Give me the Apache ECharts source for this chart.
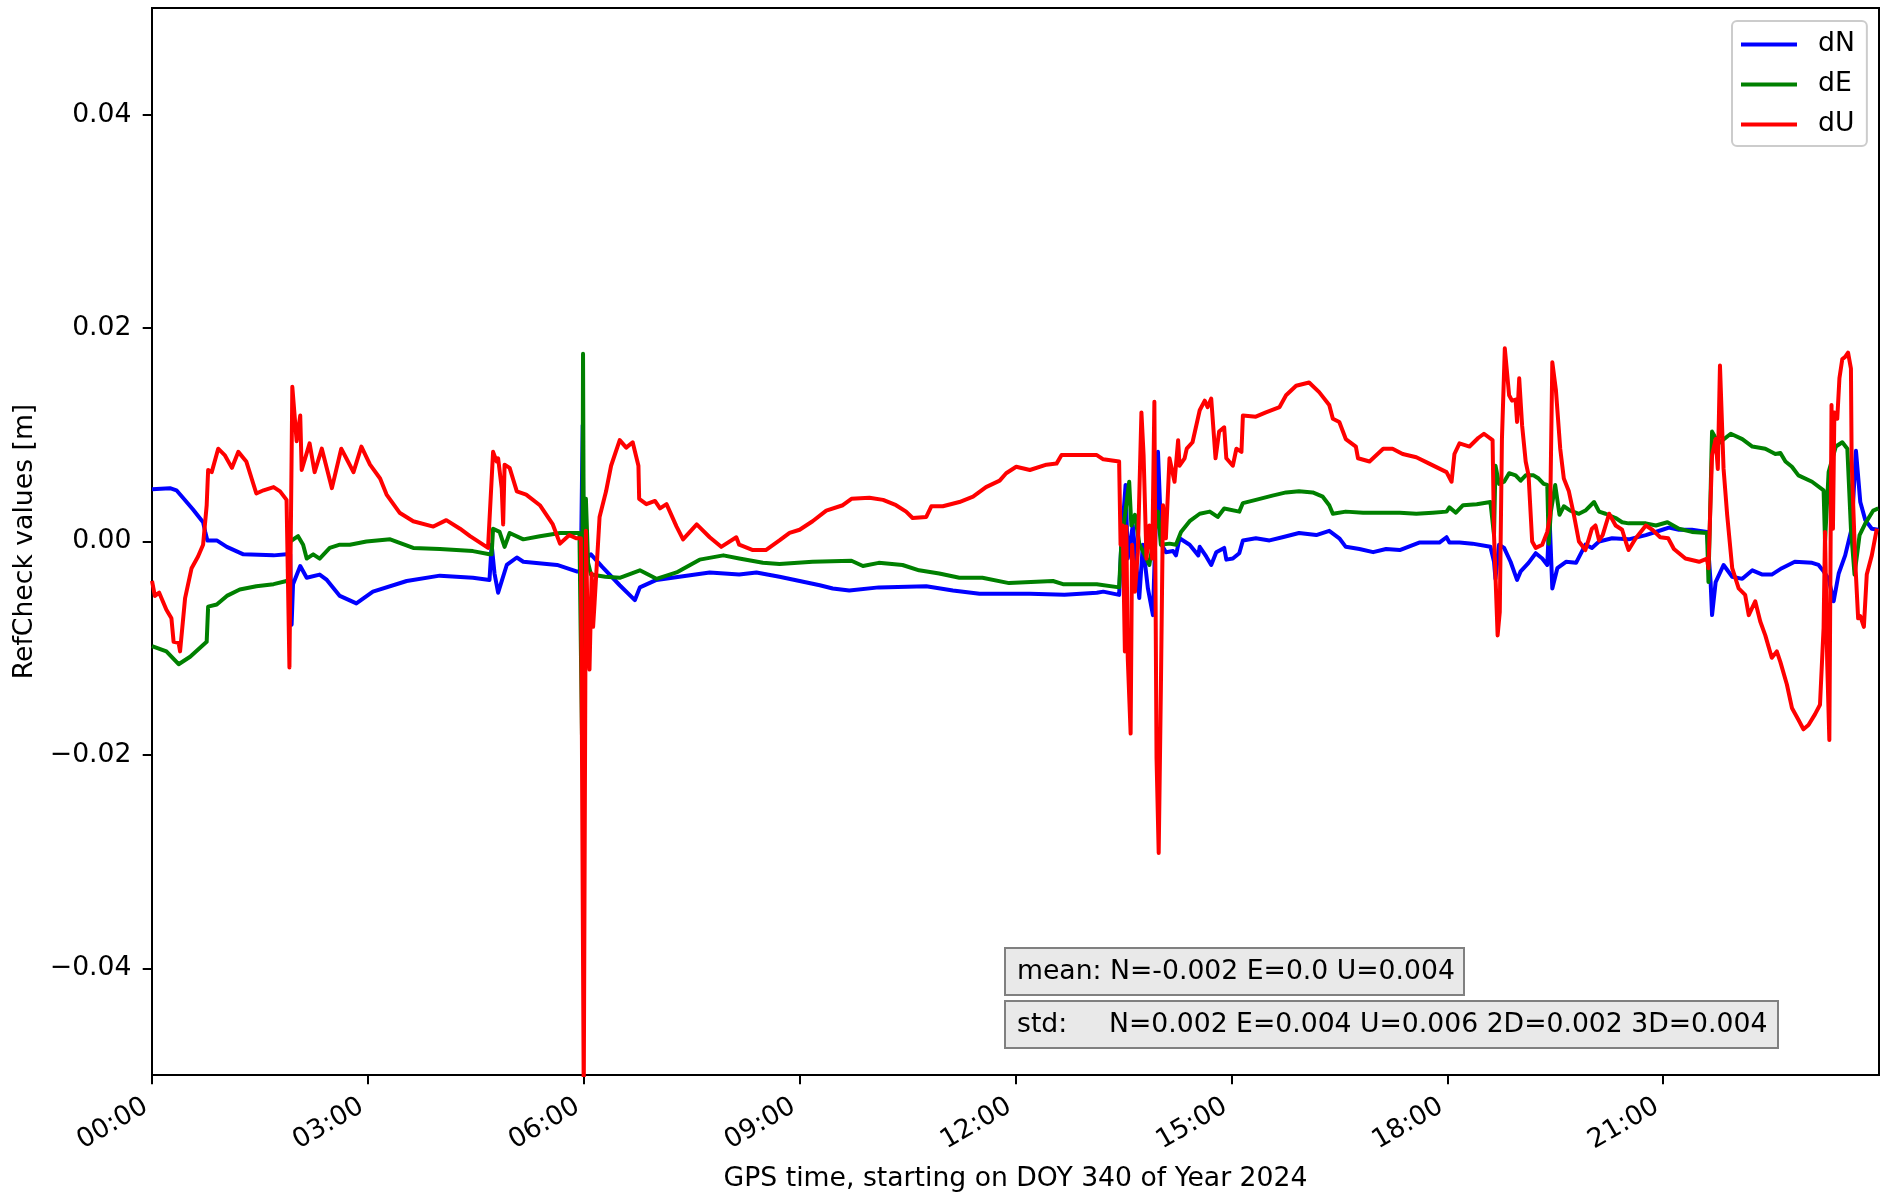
<!DOCTYPE html>
<html>
<head>
<meta charset="utf-8">
<title>RefCheck</title>
<script src="https://cdn.jsdelivr.net/npm/echarts@6/dist/echarts.min.js"></script>
<style>
  html, body { margin: 0; padding: 0; background: #fff; }
  #chart { width: 1880px; height: 1198px; }
</style>
</head>
<body>
<div id="chart"></div>
<script>
// Time in hours since 00:00 GPS time, residuals in metres.
const seriesNames = ['dN', 'dE', 'dU'];
const seriesColors = ['#0000ff', '#008000', '#ff0000'];
const xTickHours = [0, 3, 6, 9, 12, 15, 18, 21];
const yTickValues = [-0.04, -0.02, 0, 0.02, 0.04];
const meanText = 'mean: N=-0.002 E=0.0 U=0.004';
const stdLabel = 'std:';
const stdText = 'N=0.002 E=0.004 U=0.006 2D=0.002 3D=0.004';

const dN = [
  [0.0,0.0049],[0.25,0.0050],[0.34,0.0048],[0.43,0.0041],[0.57,0.0030],[0.71,0.0018],[0.74,0.0009],
  [0.77,0.0001],[0.9,0.0001],[1.04,-0.0005],[1.27,-0.0012],[1.69,-0.0013],[1.87,-0.0012],[1.92,-0.0012],
  [1.94,-0.0078],[1.96,-0.0040],[2.06,-0.0023],[2.15,-0.0034],[2.33,-0.0031],[2.43,-0.0036],[2.61,-0.0051],
  [2.84,-0.0058],[3.07,-0.0047],[3.54,-0.0037],[4.0,-0.0032],[4.46,-0.0034],[4.69,-0.0036],[4.72,-0.0003],
  [4.76,-0.0030],[4.81,-0.0048],[4.93,-0.0022],[5.07,-0.0015],[5.16,-0.0019],[5.63,-0.0022],[5.9,-0.0028],
  [5.96,-0.0028],[5.97,0.0028],[5.985,0.0109],[5.995,0.0005],[6.01,-0.0030],[6.05,-0.0015],[6.1,-0.0012],
  [6.26,-0.0024],[6.5,-0.0041],[6.71,-0.0055],[6.78,-0.0043],[7.01,-0.0036],[7.33,-0.0033],[7.75,-0.0029],
  [8.16,-0.0031],[8.4,-0.0029],[8.72,-0.0033],[9.0,-0.0037],[9.28,-0.0041],[9.46,-0.0044],[9.69,-0.0046],
  [10.1,-0.0043],[10.76,-0.0042],[11.13,-0.0046],[11.5,-0.0049],[12.2,-0.0049],[12.68,-0.0050],[13.13,-0.0048],
  [13.22,-0.0047],[13.44,-0.0050],[13.47,-0.0003],[13.53,0.0053],[13.56,-0.0016],[13.63,0.0015],[13.72,-0.0053],
  [13.77,-0.0003],[13.84,-0.0044],[13.91,-0.0069],[13.98,0.0084],[14.03,-0.0003],[14.09,-0.0010],[14.19,-0.0009],
  [14.23,-0.0013],[14.28,0.0003],[14.42,-0.0003],[14.54,-0.0013],[14.56,-0.0005],[14.65,-0.0014],[14.72,-0.0022],
  [14.79,-0.0010],[14.9,-0.0006],[14.93,-0.0017],[15.02,-0.0016],[15.11,-0.0011],[15.16,0.0001],[15.34,0.0003],
  [15.53,0.0001],[15.71,0.0004],[15.94,0.0008],[16.18,0.0006],[16.36,0.0010],[16.5,0.0003],[16.59,-0.0005],
  [16.78,-0.0007],[16.97,-0.0010],[17.15,-0.0007],[17.34,-0.0008],[17.61,-0.0001],[17.89,-0.0001],[17.99,0.0004],
  [18.03,-0.0001],[18.17,-0.0001],[18.35,-0.0002],[18.6,-0.0005],[18.65,-0.0019],[18.67,-0.0035],[18.72,-0.0003],
  [18.79,-0.0006],[18.88,-0.0019],[18.97,-0.0036],[19.02,-0.0028],[19.13,-0.0020],[19.23,-0.0011],[19.32,-0.0016],
  [19.39,-0.0022],[19.42,0.0025],[19.46,-0.0044],[19.53,-0.0025],[19.65,-0.0019],[19.79,-0.0020],[19.92,-0.0003],
  [20.01,-0.0006],[20.11,0.0],[20.29,0.0003],[20.52,0.0002],[20.76,0.0006],[20.99,0.0011],[21.08,0.0013],
  [21.22,0.0011],[21.4,0.0011],[21.61,0.0009],[21.66,-0.0038],[21.68,-0.0069],[21.73,-0.0038],[21.84,-0.0022],
  [21.96,-0.0033],[22.1,-0.0035],[22.24,-0.0027],[22.38,-0.0031],[22.51,-0.0031],[22.65,-0.0025],[22.83,-0.0019],
  [23.07,-0.0020],[23.16,-0.0022],[23.23,-0.0028],[23.3,-0.0035],[23.37,-0.0056],[23.44,-0.0030],[23.53,-0.0013],
  [23.62,0.0012],[23.68,0.0085],[23.74,0.0037],[23.81,0.0020],[23.9,0.0012],[23.99,0.0011]
];

const dE = [
  [0.0,-0.0098],[0.2,-0.0103],[0.37,-0.0115],[0.53,-0.0108],[0.71,-0.0097],[0.76,-0.0094],[0.78,-0.0061],
  [0.9,-0.0059],[1.04,-0.0051],[1.22,-0.0045],[1.45,-0.0042],[1.69,-0.0040],[1.87,-0.0037],[1.9,-0.0036],
  [1.92,0.0],[2.03,0.0005],[2.1,-0.0003],[2.15,-0.0016],[2.24,-0.0012],[2.33,-0.0016],[2.47,-0.0006],
  [2.61,-0.0003],[2.75,-0.0003],[2.98,0.0],[3.31,0.0002],[3.63,-0.0006],[4.0,-0.0007],[4.46,-0.0009],
  [4.69,-0.0012],[4.72,-0.0012],[4.74,0.0012],[4.83,0.0009],[4.9,-0.0005],[4.97,0.0008],[5.16,0.0002],
  [5.39,0.0005],[5.67,0.0008],[5.94,0.0008],[5.975,-0.0181],[5.99,0.0176],[6.0,0.0],[6.03,0.0040],
  [6.06,-0.0020],[6.1,-0.0031],[6.3,-0.0033],[6.5,-0.0034],[6.78,-0.0027],[7.01,-0.0035],[7.29,-0.0029],
  [7.61,-0.0017],[7.94,-0.0013],[8.16,-0.0016],[8.49,-0.0020],[8.72,-0.0021],[9.18,-0.0019],[9.72,-0.0018],
  [9.88,-0.0023],[10.1,-0.0020],[10.43,-0.0022],[10.66,-0.0027],[10.94,-0.0030],[11.22,-0.0034],[11.54,-0.0034],
  [11.91,-0.0039],[12.52,-0.0037],[12.66,-0.0040],[13.13,-0.0040],[13.44,-0.0043],[13.47,-0.0003],[13.58,0.0056],
  [13.61,0.0015],[13.66,0.0025],[13.72,-0.0002],[13.82,-0.0016],[13.86,-0.0022],[13.98,0.0028],[14.02,-0.0003],
  [14.14,-0.0002],[14.23,-0.0003],[14.3,0.0009],[14.42,0.0019],[14.56,0.0026],[14.7,0.0028],[14.81,0.0023],
  [14.9,0.0031],[15.11,0.0028],[15.16,0.0036],[15.34,0.0039],[15.57,0.0043],[15.76,0.0046],[15.94,0.0047],
  [16.13,0.0046],[16.27,0.0042],[16.36,0.0034],[16.41,0.0026],[16.59,0.0028],[16.83,0.0027],[17.11,0.0027],
  [17.34,0.0027],[17.57,0.0026],[17.8,0.0027],[17.99,0.0028],[18.03,0.0032],[18.12,0.0027],[18.22,0.0034],
  [18.41,0.0035],[18.6,0.0037],[18.65,0.0006],[18.67,0.0071],[18.72,0.0054],[18.79,0.0056],[18.86,0.0064],
  [18.95,0.0062],[19.02,0.0057],[19.09,0.0062],[19.2,0.0062],[19.27,0.0059],[19.34,0.0054],[19.39,0.0053],
  [19.41,-0.0002],[19.44,0.0028],[19.5,0.0053],[19.56,0.0025],[19.62,0.0033],[19.71,0.0029],[19.83,0.0026],
  [19.92,0.0029],[20.04,0.0037],[20.11,0.0028],[20.2,0.0026],[20.34,0.0022],[20.43,0.0018],[20.52,0.0017],
  [20.76,0.0017],[20.9,0.0015],[21.06,0.0018],[21.22,0.0012],[21.4,0.0009],[21.61,0.0008],[21.63,-0.0038],
  [21.68,0.0103],[21.77,0.0092],[21.94,0.0101],[22.1,0.0096],[22.24,0.0089],[22.42,0.0087],[22.56,0.0082],
  [22.63,0.0083],[22.7,0.0075],[22.79,0.0070],[22.88,0.0062],[23.07,0.0056],[23.23,0.0048],[23.25,0.0],
  [23.3,0.0065],[23.4,0.0089],[23.49,0.0093],[23.56,0.0087],[23.61,0.0012],[23.66,-0.0031],[23.73,0.0006],
  [23.81,0.0017],[23.92,0.0029],[23.99,0.0031]
];

const dU = [
  [0.0,-0.0037],[0.04,-0.0051],[0.1,-0.0048],[0.2,-0.0064],[0.27,-0.0072],[0.3,-0.0094],[0.37,-0.0095],
  [0.39,-0.0103],[0.46,-0.0053],[0.55,-0.0025],[0.64,-0.0014],[0.71,-0.0003],[0.76,0.0034],[0.78,0.0067],
  [0.83,0.0065],[0.92,0.0087],[1.01,0.0081],[1.11,0.0069],[1.2,0.0084],[1.31,0.0075],[1.45,0.0045],
  [1.55,0.0048],[1.69,0.0051],[1.78,0.0047],[1.87,0.0039],[1.91,-0.0118],[1.95,0.0145],[2.01,0.0094],
  [2.06,0.0118],[2.08,0.0067],[2.19,0.0092],[2.26,0.0065],[2.36,0.0087],[2.5,0.0050],[2.63,0.0087],
  [2.7,0.0078],[2.8,0.0065],[2.91,0.0089],[3.03,0.0072],[3.17,0.0059],[3.26,0.0044],[3.44,0.0027],
  [3.63,0.0019],[3.91,0.0014],[4.09,0.0020],[4.28,0.0012],[4.42,0.0005],[4.67,-0.0006],[4.74,0.0084],
  [4.79,0.0075],[4.81,0.0078],[4.86,0.0050],[4.88,0.0016],[4.9,0.0072],[4.97,0.0069],[5.07,0.0047],
  [5.2,0.0044],[5.39,0.0034],[5.57,0.0016],[5.67,-0.0002],[5.8,0.0006],[5.9,0.0003],[5.96,0.0003],
  [6.0,-0.052],[6.03,0.0010],[6.06,-0.0100],[6.08,-0.0120],[6.11,-0.0030],[6.13,-0.0080],[6.15,-0.0058],
  [6.22,0.0023],[6.31,0.0047],[6.38,0.0071],[6.5,0.0095],[6.59,0.0088],[6.68,0.0093],[6.76,0.0071],
  [6.77,0.0040],[6.87,0.0035],[6.99,0.0038],[7.06,0.0031],[7.15,0.0035],[7.29,0.0014],[7.38,0.0002],
  [7.57,0.0016],[7.75,0.0004],[7.91,-0.0005],[8.12,0.0004],[8.16,-0.0003],[8.35,-0.0008],[8.53,-0.0008],
  [8.72,0.0001],[8.86,0.0008],[9.0,0.0011],[9.18,0.0019],[9.37,0.0029],[9.6,0.0034],[9.72,0.0040],
  [9.97,0.0041],[10.16,0.0039],[10.34,0.0034],[10.48,0.0028],[10.57,0.0022],[10.76,0.0023],[10.83,0.0033],
  [10.99,0.0033],[11.22,0.0037],[11.41,0.0042],[11.59,0.0051],[11.78,0.0057],[11.87,0.0064],[12.01,0.0070],
  [12.2,0.0067],[12.43,0.0072],[12.57,0.0073],[12.64,0.0081],[12.9,0.0081],[13.13,0.0081],[13.22,0.0077],
  [13.44,0.0075],[13.46,-0.0003],[13.49,0.0015],[13.52,-0.0103],[13.54,0.0014],[13.56,-0.0109],[13.6,-0.0180],
  [13.62,-0.0003],[13.66,-0.0047],[13.7,-0.0010],[13.75,0.0121],[13.78,0.0081],[13.82,-0.0016],[13.86,0.0015],
  [13.9,-0.0016],[13.93,0.0131],[13.96,-0.0203],[13.99,-0.0292],[14.02,-0.0140],[14.05,0.0034],[14.09,0.0003],
  [14.14,0.0078],[14.21,0.0056],[14.26,0.0095],[14.28,0.0071],[14.35,0.0078],[14.38,0.0087],[14.46,0.0093],
  [14.56,0.0123],[14.63,0.0132],[14.67,0.0126],[14.72,0.0134],[14.78,0.0078],[14.83,0.0103],[14.9,0.0107],
  [14.93,0.0078],[15.02,0.0071],[15.07,0.0087],[15.14,0.0084],[15.16,0.0118],[15.34,0.0117],[15.48,0.0121],
  [15.67,0.0126],[15.76,0.0137],[15.9,0.0146],[16.08,0.0149],[16.22,0.0140],[16.36,0.0128],[16.41,0.0115],
  [16.5,0.0112],[16.59,0.0096],[16.73,0.0089],[16.76,0.0078],[16.92,0.0075],[17.11,0.0087],[17.24,0.0087],
  [17.38,0.0082],[17.57,0.0079],[17.75,0.0073],[17.99,0.0065],[18.06,0.0056],[18.1,0.0082],[18.17,0.0092],
  [18.31,0.0089],[18.43,0.0097],[18.51,0.0101],[18.63,0.0095],[18.65,0.0006],[18.7,-0.0088],[18.73,-0.0066],
  [18.76,0.0096],[18.8,0.0181],[18.86,0.0137],[18.9,0.0132],[18.95,0.0133],[18.97,0.0112],[19.0,0.0153],
  [19.04,0.0109],[19.09,0.0075],[19.13,0.0062],[19.18,0.0],[19.23,-0.0006],[19.32,-0.0003],[19.39,0.0009],
  [19.43,0.0025],[19.46,0.0168],[19.51,0.0142],[19.57,0.0087],[19.62,0.0059],[19.69,0.0047],[19.76,0.0025],
  [19.83,0.0],[19.92,-0.0008],[19.97,0.0003],[20.01,0.0012],[20.06,0.0015],[20.11,0.0001],[20.16,0.0006],
  [20.25,0.0026],[20.34,0.0015],[20.43,0.0011],[20.48,0.0],[20.52,-0.0008],[20.62,0.0003],[20.76,0.0015],
  [20.85,0.0011],[20.96,0.0004],[21.07,0.0003],[21.15,-0.0007],[21.31,-0.0016],[21.5,-0.0019],[21.61,-0.0016],
  [21.63,-0.0025],[21.68,0.0081],[21.73,0.0096],[21.76,0.0068],[21.79,0.0165],[21.84,0.0068],[21.89,0.0025],
  [21.96,-0.0025],[22.05,-0.0044],[22.14,-0.0050],[22.19,-0.0069],[22.28,-0.0056],[22.35,-0.0075],[22.42,-0.0088],
  [22.51,-0.0109],[22.58,-0.0103],[22.63,-0.0113],[22.72,-0.0134],[22.79,-0.0156],[22.88,-0.0167],[22.95,-0.0176],
  [23.02,-0.0172],[23.11,-0.0162],[23.18,-0.0153],[23.23,-0.0081],[23.25,0.0009],[23.28,-0.0113],[23.31,-0.0186],
  [23.34,0.0128],[23.36,0.0012],[23.38,0.0121],[23.42,0.0115],[23.45,0.0153],[23.49,0.0171],[23.53,0.0173],
  [23.57,0.0177],[23.61,0.0162],[23.62,0.0075],[23.67,-0.0019],[23.71,-0.0072],[23.74,-0.0070],[23.79,-0.0080],
  [23.83,-0.0031],[23.9,-0.0013],[23.97,0.0012]
];

const seriesData = [dN, dE, dU];

const FONT = '"DejaVu Sans", Verdana, sans-serif';
const FS = 26.67;

const chart = echarts.init(document.getElementById('chart'), null, { renderer: 'canvas' });

const hhmm = h => String(h).padStart(2, '0') + ':00';
const tickFmt = v => {
  const s = Math.abs(v).toFixed(2);
  return (v < -1e-9 ? '\u2212' : '') + s;
};

chart.setOption({
  animation: false,
  backgroundColor: '#ffffff',
  grid: {
    left: 152, top: 8, right: 1, bottom: 119,
    show: true, borderColor: '#000', borderWidth: 2, backgroundColor: 'transparent'
  },
  xAxis: {
    type: 'value', min: 0, max: 24,
    name: 'GPS time, starting on DOY 340 of Year 2024',
    nameLocation: 'middle', nameGap: 91,
    nameTextStyle: { fontFamily: FONT, fontSize: FS, color: '#000' },
    axisLine: { show: true, onZero: false, lineStyle: { color: '#000', width: 2 } },
    axisTick: { show: true, inside: false, length: 9.3, lineStyle: { color: '#000', width: 2 }, customValues: xTickHours },
    axisLabel: {
      show: true, rotate: 30, margin: 26, padding: [0, 7, 0, 0], customValues: xTickHours,
      formatter: hhmm, fontFamily: FONT, fontSize: FS, color: '#000'
    },
    splitLine: { show: false }
  },
  yAxis: {
    type: 'value', min: -0.05, max: 0.05,
    name: 'RefCheck values [m]',
    nameLocation: 'middle', nameGap: 109,
    nameTextStyle: { fontFamily: FONT, fontSize: FS, color: '#000' },
    axisLine: { show: true, onZero: false, lineStyle: { color: '#000', width: 2 } },
    axisTick: { show: true, inside: false, length: 9.3, lineStyle: { color: '#000', width: 2 }, customValues: yTickValues },
    axisLabel: {
      show: true, margin: 20.5, customValues: yTickValues,
      formatter: tickFmt, fontFamily: FONT, fontSize: FS, color: '#000'
    },
    splitLine: { show: false }
  },
  legend: {
    orient: 'vertical', left: 1732, top: 21,
    data: seriesNames,
    icon: 'rect', itemWidth: 56, itemHeight: 4, itemGap: 13,
    padding: [10, 12, 8, 9],
    backgroundColor: '#ffffff', borderColor: '#cccccc', borderWidth: 2, borderRadius: 5,
    textStyle: { fontFamily: FONT, fontSize: FS, color: '#000', lineHeight: 27, padding: [0, 0, 0, 16] }
  },
  series: seriesNames.map((name, i) => ({
    name: name,
    type: 'line',
    data: seriesData[i],
    showSymbol: false,
    symbol: 'none',
    clip: true,
    z: 2 + i,
    itemStyle: { color: seriesColors[i] },
    lineStyle: { color: seriesColors[i], width: 4, join: 'round', cap: 'butt' }
  })),
  graphic: [
    { type: 'rect', z: 100, shape: { x: 1005, y: 948, width: 459, height: 47 },
      style: { fill: '#e9e9e9', stroke: '#808080', lineWidth: 2 } },
    { type: 'text', z: 101, x: 1017, y: 972,
      style: { text: meanText, font: FS + 'px ' + FONT, fill: '#000', verticalAlign: 'middle', textVerticalAlign: 'middle' } },
    { type: 'rect', z: 100, shape: { x: 1005, y: 1001, width: 773, height: 47 },
      style: { fill: '#e9e9e9', stroke: '#808080', lineWidth: 2 } },
    { type: 'text', z: 101, x: 1017, y: 1025,
      style: { text: stdLabel, font: FS + 'px ' + FONT, fill: '#000', verticalAlign: 'middle', textVerticalAlign: 'middle' } },
    { type: 'text', z: 101, x: 1109, y: 1025,
      style: { text: stdText, font: FS + 'px ' + FONT, fill: '#000', verticalAlign: 'middle', textVerticalAlign: 'middle' } }
  ]
});
</script>
</body>
</html>
